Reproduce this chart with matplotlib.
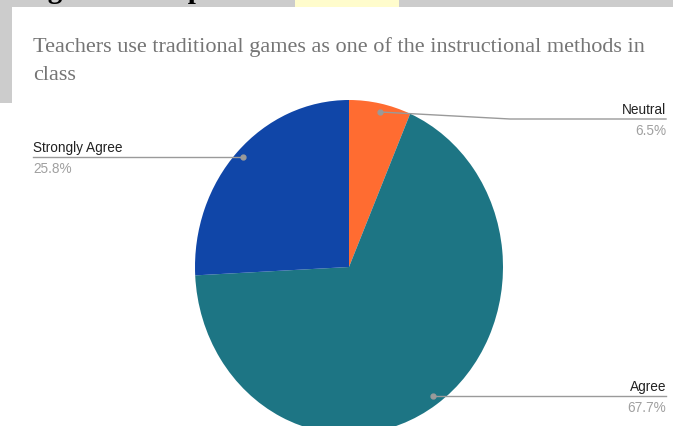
import matplotlib.pyplot as plt
from matplotlib.patches import Rectangle

# data
labels = ['Neutral', 'Agree', 'Strongly Agree']
shares = [6.5, 67.7, 25.8]
colors = ['#ff6c31', '#1d7584', '#1046a8']
pct_labels = ['6.5%', '67.7%', '25.8%']
title_lines = ['Teachers use traditional games as one of the instructional methods in', 'class']

W, H = 673, 427
fig = plt.figure(figsize=(W / 100, H / 100), dpi=100)
fig.patch.set_facecolor('white')

# overlay axes in pixel coordinates (y downward)
ov = fig.add_axes([0, 0, 1, 1], zorder=2)
ov.set_xlim(0, W)
ov.set_ylim(H, 0)
ov.axis('off')
ov.patch.set_alpha(0)

# screenshot background bits
bg = fig.add_axes([0, 0, 1, 1], zorder=0)
bg.set_xlim(0, W)
bg.set_ylim(H, 0)
bg.axis('off')
bg.add_patch(Rectangle((0, 0), W, 8, color='#cccccc', lw=0))
bg.add_patch(Rectangle((0, 0), 12, 104, color='#cccccc', lw=0))
bg.add_patch(Rectangle((295, 0), 104, 8, color='#fffccc', lw=0))
bg.text(22, -2, 'Figure 3: Responses', fontsize=21, fontweight='bold',
        family='Liberation Serif', color='black', va='baseline')

# pie (screenshot is stretched a little vertically)
cx, cy, rx, ry = 349, 268, 154, 167
pa = fig.add_axes([(cx - rx) / W, (H - cy - ry) / H, 2 * rx / W, 2 * ry / H], zorder=1)
pa.pie(shares, colors=colors, startangle=90, counterclock=False,
       wedgeprops=dict(linewidth=0))
pa.set_aspect('auto')
pa.set_xlim(-1, 1)
pa.set_ylim(-1, 1)
pa.axis('off')

# title
for i, line in enumerate(title_lines):
    ov.text(33, 52 + i * 28, line, fontsize=16, family='Liberation Serif', color='#757575',
            va='baseline')

# labels with leader lines
line_c = '#9a9a9a'
lab_kw = dict(fontsize=9.8, family='Liberation Sans', color='#222222', va='bottom')
pct_kw = dict(fontsize=9.8, family='Liberation Sans', color='#a0a0a0', va='top')
# Strongly Agree
ov.plot([33, 243], [158, 158], color=line_c, lw=1)
ov.plot(243, 158, 'o', color=line_c, ms=3.5)
ov.text(33, 155, labels[2], **lab_kw)
ov.text(33, 162, pct_labels[2], **pct_kw)
# Neutral
ov.plot([380, 510, 666], [113, 120, 120], color=line_c, lw=1)
ov.plot(380, 113, 'o', color=line_c, ms=3.5)
ov.text(666, 117, labels[0], ha='right', **lab_kw)
ov.text(666, 124, pct_labels[0], ha='right', **pct_kw)
# Agree
ov.plot([433, 666], [397, 397], color=line_c, lw=1)
ov.plot(433, 397, 'o', color=line_c, ms=3.5)
ov.text(666, 394, labels[1], ha='right', **lab_kw)
ov.text(666, 401, pct_labels[1], ha='right', **pct_kw)

fig.savefig('out.png', dpi=100)
